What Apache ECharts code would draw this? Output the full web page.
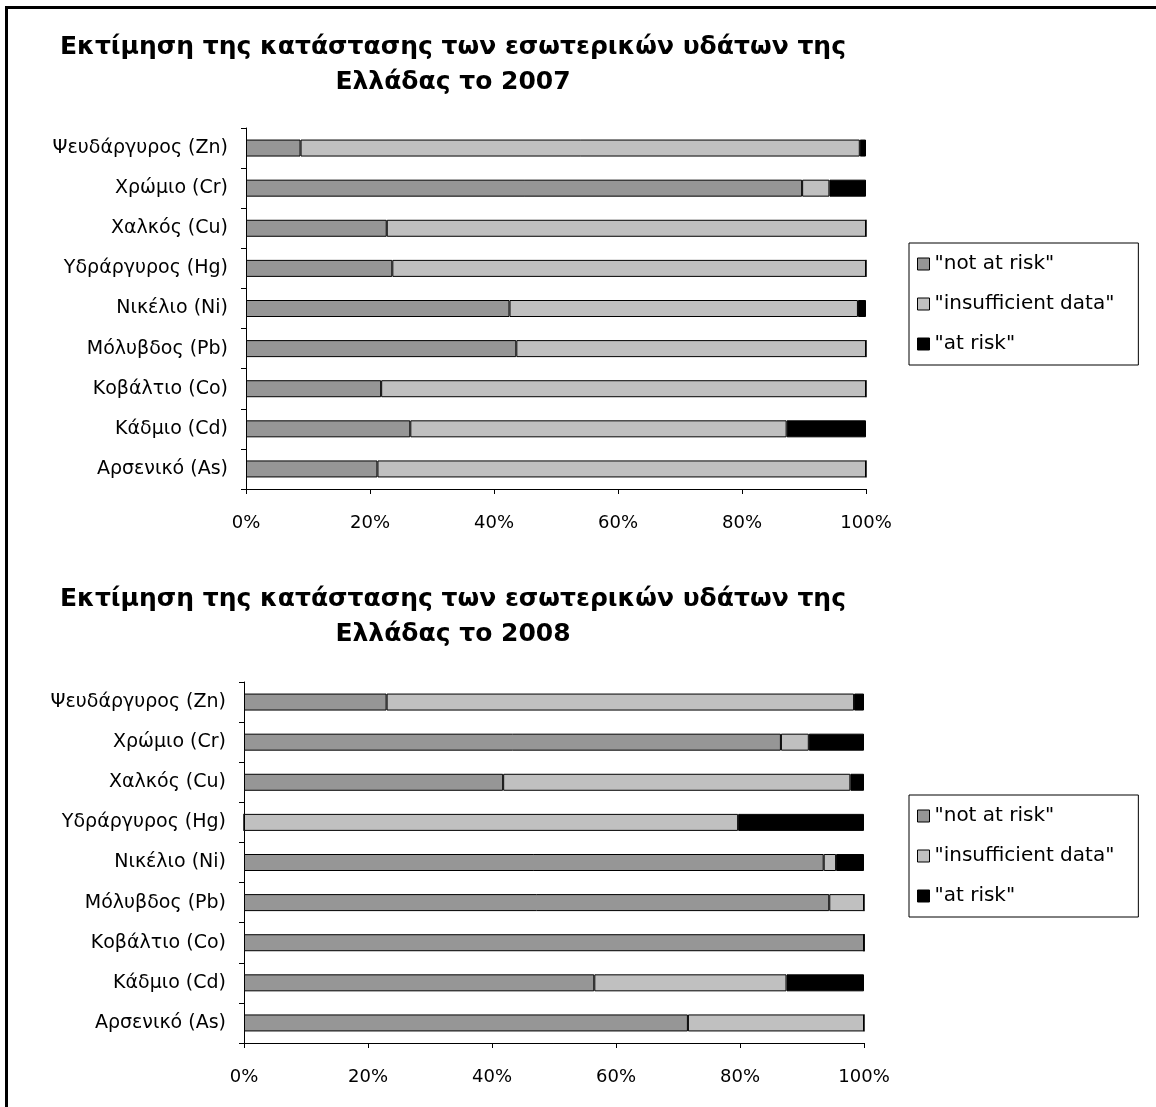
<!DOCTYPE html>
<html>
<head>
<meta charset="utf-8">
<script src="https://cdn.jsdelivr.net/npm/echarts@6/dist/echarts.min.js"></script>
<style>
  html, body { margin: 0; padding: 0; background: #fff; overflow: hidden; }
  #chart { width: 1156px; height: 1107px; }
</style>
</head>
<body>
<div id="chart"></div>
<script>
// Metals assessed (top to bottom)
const categories = [
  'Ψευδάργυρος (Zn)', 'Χρώμιο (Cr)', 'Χαλκός (Cu)', 'Υδράργυρος (Hg)',
  'Νικέλιο (Ni)', 'Μόλυβδος (Pb)', 'Κοβάλτιο (Co)', 'Κάδμιο (Cd)', 'Αρσενικό (As)'
];
const seriesNames = ['"not at risk"', '"insufficient data"', '"at risk"'];
const tickLabels = ['0%', '20%', '40%', '60%', '80%', '100%'];

// 2007 shares (%)
const notAtRisk2007       = [8.8, 89.7, 22.7, 23.6, 42.5, 43.6, 21.8, 26.5, 21.2];
const insufficient2007    = [90.2, 4.4, 77.3, 76.4, 56.2, 56.4, 78.2, 60.7, 78.8];
const atRisk2007          = [1.0, 5.9, 0, 0, 1.3, 0, 0, 12.8, 0];

// 2008 shares (%)
const notAtRisk2008       = [23.0, 86.6, 41.8, 0, 93.5, 94.4, 100, 56.5, 71.6];
const insufficient2008    = [75.4, 4.5, 56.0, 79.7, 2.0, 5.6, 0, 31.0, 28.4];
const atRisk2008          = [1.6, 8.9, 2.2, 20.3, 4.5, 0, 0, 12.5, 0];

const titles = [
  'Εκτίμηση της κατάστασης των εσωτερικών υδάτων της\nΕλλάδας το 2007',
  'Εκτίμηση της κατάστασης των εσωτερικών υδάτων της\nΕλλάδας το 2008'
];

const FONT = 'DejaVu Sans';
const colors = ['#969696', '#c0c0c0', '#000000'];

const grids = [
  { left: 246, top: 128, width: 620, height: 361 },
  { left: 244, top: 682, width: 620, height: 361 }
];

function xAxisFor(i) {
  return {
    type: 'value', gridIndex: i, min: 0, max: 100, interval: 20,
    axisLine: { show: true, lineStyle: { color: '#000', width: 1 } },
    axisTick: { show: true, length: 5, lineStyle: { color: '#000' } },
    splitLine: { show: false },
    axisLabel: {
      color: '#000', fontFamily: FONT, fontSize: 18, margin: 25,
      formatter: function (v) { return tickLabels[Math.round(v / 20)]; }
    }
  };
}
function yAxisFor(i) {
  return {
    type: 'category', gridIndex: i, data: categories, inverse: true,
    axisLine: { show: true, lineStyle: { color: '#000', width: 1 } },
    axisTick: { show: true, length: 5, lineStyle: { color: '#000' } },
    axisLabel: { color: '#000', fontFamily: FONT, fontSize: 19, margin: 18 }
  };
}

const data = [
  [notAtRisk2007, insufficient2007, atRisk2007],
  [notAtRisk2008, insufficient2008, atRisk2008]
];

const series = [];
for (let g = 0; g < 2; g++) {
  for (let s = 0; s < 3; s++) {
    series.push({
      name: seriesNames[s], type: 'bar', stack: 'total' + g,
      xAxisIndex: g, yAxisIndex: g, barWidth: 17,
      data: data[g][s],
      itemStyle: { color: colors[s], borderColor: '#000', borderWidth: 1 },
      emphasis: { disabled: true }
    });
  }
}

function legendAt(top) {
  return {
    data: seriesNames, orient: 'vertical', left: 909, top: top,
    padding: [11, 24, 11, 8], itemGap: 20, itemWidth: 12, itemHeight: 12,
    icon: 'rect', borderColor: '#000', borderWidth: 1,
    itemStyle: { borderColor: '#000', borderWidth: 1 },
    textStyle: { color: '#000', fontFamily: FONT, fontSize: 20 },
    selectedMode: false
  };
}

const titleStyle = { fontFamily: FONT, fontWeight: 'bold', fontSize: 25, color: '#000', lineHeight: 35 };

const chart = echarts.init(document.getElementById('chart'), null, { renderer: 'canvas' });
chart.setOption({
  backgroundColor: '#fff',
  animation: false,
  title: [
    { text: titles[0], left: 448, top: 25, textAlign: 'center', textStyle: titleStyle },
    { text: titles[1], left: 448, top: 577, textAlign: 'center', textStyle: titleStyle }
  ],
  legend: [legendAt(243), legendAt(795)],
  grid: grids,
  xAxis: [xAxisFor(0), xAxisFor(1)],
  yAxis: [yAxisFor(0), yAxisFor(1)],
  series: series,
  graphic: [
    { type: 'line', silent: true, shape: { x1: 6.5, y1: 6, x2: 6.5, y2: 1107 },
      style: { stroke: '#000', lineWidth: 3 } },
    { type: 'line', silent: true, shape: { x1: 5, y1: 7.5, x2: 1156, y2: 7.5 },
      style: { stroke: '#000', lineWidth: 3 } }
  ]
});
</script>
</body>
</html>
